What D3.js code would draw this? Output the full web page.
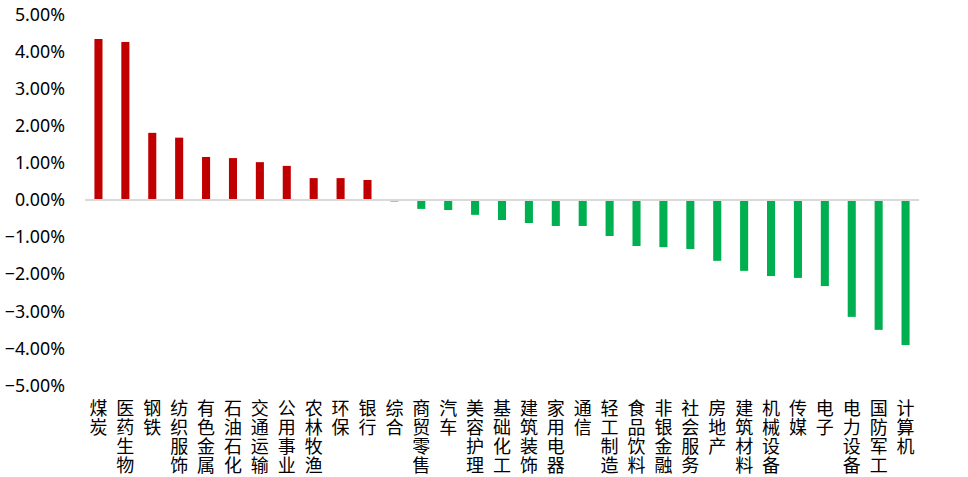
<!DOCTYPE html>
<html>
<head>
<meta charset="utf-8">
<script src="https://cdn.jsdelivr.net/npm/d3@7"></script>
<style>
  html, body { margin: 0; padding: 0; background: #fff; }
  svg { display: block; }
  .cat { writing-mode: vertical-rl; text-orientation: upright; }
</style>
</head>
<body>
<svg id="chart" width="968" height="477"></svg>
<script>
const categories = ["煤炭","医药生物","钢铁","纺织服饰","有色金属","石油石化","交通运输","公用事业","农林牧渔","环保","银行","综合","商贸零售","汽车","美容护理","基础化工","建筑装饰","家用电器","通信","轻工制造","食品饮料","非银金融","社会服务","房地产","建筑材料","机械设备","传媒","电子","电力设备","国防军工","计算机"];
const values = [4.34,4.26,1.81,1.68,1.16,1.13,1.02,0.92,0.59,0.59,0.54,-0.04,-0.24,-0.27,-0.40,-0.54,-0.62,-0.70,-0.70,-0.97,-1.24,-1.27,-1.32,-1.64,-1.91,-2.05,-2.10,-2.32,-3.15,-3.50,-3.91];
const yTicks = [5,4,3,2,1,0,-1,-2,-3,-4,-5];

const svg = d3.select("#chart");
const x = d3.scaleBand().domain(categories).range([85, 919]).paddingInner(0.7).paddingOuter(0.35);
const y = d3.scaleLinear().domain([-5, 5]).range([385.5, 14.5]);

const data = categories.map((c, i) => ({ c, v: values[i] }));

// y axis labels
const yAxis = d3.axisLeft(y).tickValues(yTicks).tickSize(0).tickPadding(0)
  .tickFormat(d => d3.format(".2f")(d) + "%");
const ga = svg.append("g").attr("transform", "translate(65,0)").call(yAxis);
ga.select(".domain").remove();
ga.selectAll("text")
  .attr("font-family", "'Noto Sans', 'DejaVu Sans', sans-serif")
  .attr("font-size", 17.8)
  .attr("fill", "#000");

// bars
svg.append("g").selectAll("rect").data(data).join("rect")
  .attr("x", d => x(d.c))
  .attr("width", x.bandwidth())
  .attr("y", d => y(Math.max(0, d.v)))
  .attr("height", d => Math.abs(y(d.v) - y(0)))
  .attr("fill", d => d.v >= 0 ? "#c00000" : "#00b050");

// zero line
svg.append("line")
  .attr("x1", 85).attr("x2", 919)
  .attr("y1", y(0)).attr("y2", y(0))
  .attr("stroke", "#d9d9d9").attr("stroke-width", 2);

// vertical category labels
svg.append("g").selectAll("text").data(data).join("text")
  .attr("class", "cat")
  .attr("font-family", "'Noto Sans CJK SC', sans-serif")
  .attr("font-size", 18)
  .attr("letter-spacing", 1)
  .attr("fill", "#000")
  .attr("x", d => x(d.c) + x.bandwidth() / 2)
  .attr("y", 399)
  .text(d => d.c);
</script>
</body>
</html>
